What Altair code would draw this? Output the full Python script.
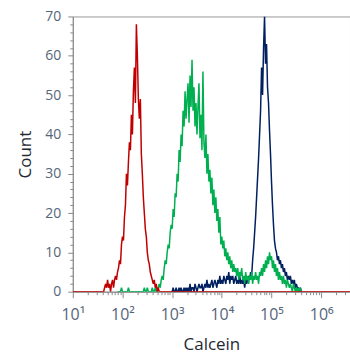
import altair as alt
import numpy as np
import pandas as pd

# ---------------- data (histogram counts) ----------------
STEP = 0.02                     # channel width in log10 units
X_DOMAIN = [1.0, 6.58]          # log10(Calcein)
Y_DOMAIN = [0, 70]

RED_START = 1.60
RED = [0, 0, 1, 2, 1, 3, 1, 2, 0, 2,
       3, 1, 3, 4, 3, 5, 6, 8, 7, 12,
       14, 13, 19, 22, 30, 27, 33, 38, 36, 45,
       40, 51, 57, 48, 68, 60, 49, 44, 49, 35,
       30, 24, 20, 16, 14, 10, 8, 7, 5, 4,
       3, 2, 3, 1, 2, 0, 1, 0]

GREEN_START = 1.90
GREEN = [0, 0, 0, 0, 1, 0, 0, 0, 0, 0,
         0, 1, 0, 0, 0, 0, 0, 0, 0, 0,
         0, 0, 0, 0, 0, 0, 0, 1, 0, 0,
         1, 0, 0, 0, 0, 1, 0, 0, 1, 0,
         0, 1, 2, 1, 3, 4, 3, 6, 8, 7,
         10, 12, 11, 15, 17, 16, 21, 19, 25, 24,
         30, 28, 36, 33, 40, 37, 46, 42, 51, 44,
         49, 53, 43, 55, 47, 59, 46, 52, 42, 48,
         40, 47, 53, 39, 45, 36, 56, 38, 34, 40,
         30, 35, 28, 31, 25, 29, 22, 26, 20, 24,
         18, 21, 15, 19, 12, 14, 11, 13, 9, 11,
         8, 10, 7, 9, 6, 8, 5, 7, 5, 6,
         4, 6, 3, 5, 4, 6, 3, 4, 2, 5,
         3, 4, 2, 4, 3, 5, 2, 4, 3, 5,
         3, 4, 2, 5, 4, 6, 4, 7, 5, 8,
         6, 9, 7, 10, 8, 9, 6, 8, 5, 7,
         4, 6, 3, 5, 3, 4, 2, 4, 2, 3,
         1, 3, 2, 1, 2, 1, 0, 2, 1, 0,
         1, 0, 1, 0, 1, 0]

BLUE_START = 3.00
BLUE = [0, 1, 0, 0, 1, 0, 0, 1, 0, 1,
        0, 0, 1, 0, 1, 0, 1, 0, 2, 0,
        1, 1, 0, 2, 1, 0, 1, 2, 1, 1,
        2, 0, 1, 2, 1, 3, 1, 2, 1, 2,
        3, 1, 2, 3, 2, 1, 3, 2, 4, 2,
        3, 2, 4, 3, 2, 4, 3, 5, 2, 4,
        3, 4, 2, 3, 4, 2, 3, 2, 4, 2,
        3, 2, 3, 1, 3, 2, 3, 4, 3, 5,
        4, 8, 11, 15, 19, 24, 29, 34, 40, 46,
        57, 50, 62, 70, 58, 63, 52, 48, 41, 35,
        28, 22, 17, 13, 11, 10, 8, 9, 7, 8,
        6, 7, 5, 6, 4, 5, 3, 4, 3, 4,
        2, 3, 2, 3, 1, 2, 1, 1, 0, 1,
        0]

SERIES = ["Unstained", "Sample A", "Sample B"]
COLORS = ["#C00000", "#00B050", "#002060"]

X_MAJOR = [1, 2, 3, 4, 5, 6]
Y_MAJOR_STEP = 10
Y_MINOR_STEP = 2


def frame(name, start, counts, pad=False):
    logx = np.round(start + STEP * np.arange(len(counts)), 4)
    df = pd.DataFrame({"logx": logx, "count": counts, "series": name})
    if pad:  # the red trace runs along the baseline over the whole axis
        ends = pd.DataFrame({"logx": X_DOMAIN, "count": [0, 0], "series": name})
        df = pd.concat([ends.iloc[:1], df, ends.iloc[1:]], ignore_index=True)
    return df


data = pd.concat([
    frame(SERIES[0], RED_START, RED, pad=True),
    frame(SERIES[1], GREEN_START, GREEN),
    frame(SERIES[2], BLUE_START, BLUE),
], ignore_index=True)

x_ticks = [round(n + np.log10(k), 5) for n in X_MAJOR for k in range(1, 10)
           if n + np.log10(k) <= X_DOMAIN[1]]
y_ticks = list(range(Y_DOMAIN[0], Y_DOMAIN[1] + 1, Y_MINOR_STEP))

FONT = "Open Sans"
AXIS_GREY = "#8a8a8a"
LABEL_COL = "#56657a"
TITLE_COL = "#232a33"

is_major_x = "abs(datum.value - round(datum.value)) < 0.001"
x_axis = alt.Axis(
    values=x_ticks,
    labelExpr=f"{is_major_x} ? '10' + ['⁰','¹','²','³','⁴','⁵','⁶'][round(datum.value)] : ''",
    tickSize={"condition": {"test": is_major_x, "value": 6}, "value": 3},
    labelFlush=False, labelOverlap=False, grid=False,
    labelFont=FONT, labelFontSize=16, labelColor=LABEL_COL, labelPadding=9,
    titleFont=FONT, titleFontSize=17, titleFontWeight="normal", titleColor=TITLE_COL,
    titlePadding=14, domainColor=AXIS_GREY, tickColor=AXIS_GREY,
)
is_major_y = f"datum.value % {Y_MAJOR_STEP} == 0"
y_axis = alt.Axis(
    values=y_ticks,
    labelExpr=f"{is_major_y} ? datum.label : ''",
    tickSize={"condition": {"test": is_major_y, "value": 5}, "value": 3},
    labelFlush=False, labelOverlap=False, grid=False,
    labelFont=FONT, labelFontSize=14, labelColor=LABEL_COL, labelPadding=7,
    titleFont=FONT, titleFontSize=17, titleFontWeight="normal", titleColor=TITLE_COL,
    titlePadding=10, domainColor=AXIS_GREY, tickColor=AXIS_GREY,
)

base = alt.Chart(data).mark_line(strokeWidth=1.5, clip=True).encode(
    x=alt.X("logx:Q", title="Calcein",
            scale=alt.Scale(domain=X_DOMAIN, nice=False, zero=False), axis=x_axis),
    y=alt.Y("count:Q", title="Count",
            scale=alt.Scale(domain=Y_DOMAIN, nice=False), axis=y_axis),
    color=alt.Color("series:N", scale=alt.Scale(domain=SERIES, range=COLORS), legend=None),
)

layers = [base.transform_filter(alt.datum.series == s) for s in [SERIES[2], SERIES[1], SERIES[0]]]

chart = alt.layer(*layers).properties(
    width=278, height=276,
    autosize=alt.AutoSizeParams(type="none"),
    padding={"left": 73, "top": 16, "right": 0, "bottom": 64},
    background="white",
).configure_view(stroke="#9a9a9a", strokeWidth=1)

chart.save("out.html", embed_options={"renderer": "svg", "actions": False})
